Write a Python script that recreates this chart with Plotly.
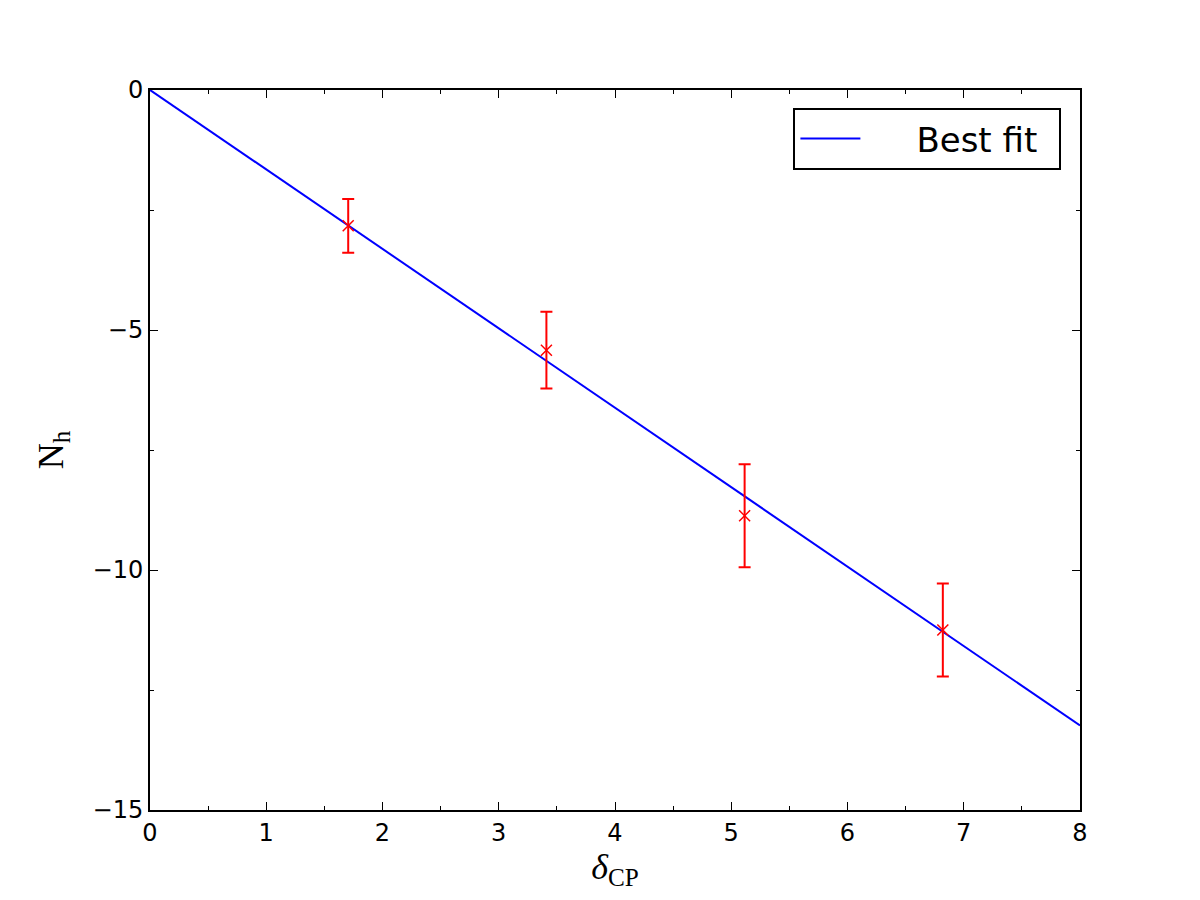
import plotly.graph_objects as go

# Data
delta_cp = [1.705, 3.41, 5.115, 6.82]
n_h = [-2.83, -5.42, -8.87, -11.25]
n_h_err = [0.56, 0.80, 1.075, 0.97]

fit_x = [0, 8]
fit_y = [0, -13.24]

x_ticks = [0, 1, 2, 3, 4, 5, 6, 7, 8]
y_ticks = [0, -5, -10, -15]

fig = go.Figure()

fig.add_trace(go.Scatter(
    x=fit_x, y=fit_y, mode="lines", name="\u2003\u2002Best fit\u2002",
    line=dict(color="#0000ff", width=2),
))

fig.add_trace(go.Scatter(
    x=delta_cp, y=n_h, mode="markers", showlegend=False,
    marker=dict(symbol="x-thin", size=11, color="#ff0000",
                line=dict(width=1.5, color="#ff0000")),
    error_y=dict(type="data", array=n_h_err, visible=True,
                 color="#ff0000", thickness=2, width=6),
))

axis_common = dict(
    showline=True, linecolor="black", linewidth=2, mirror="allticks",
    ticks="inside", ticklen=8, tickwidth=1, tickcolor="black",
    showgrid=False, zeroline=False,
    tickfont=dict(family="DejaVu Sans", size=24, color="black"),
)

fig.update_xaxes(
    range=[0, 8], tickvals=x_ticks, ticktext=[str(v) for v in x_ticks],
    minor=dict(ticks="inside", dtick=0.5, ticklen=4, tickcolor="black", tickwidth=1),
    title=dict(text="<i>δ</i><sub>CP</sub>", font=dict(family="Liberation Serif", size=36, color="black"), standoff=6),
    **axis_common,
)
fig.update_yaxes(
    range=[-15, 0], tickvals=y_ticks, ticktext=["0", "\u22125", "\u221210", "\u221215"],
    minor=dict(ticks="inside", dtick=2.5, ticklen=4, tickcolor="black", tickwidth=1),
    title=dict(text="N<sub>h</sub>", font=dict(family="Liberation Serif", size=36, color="black"), standoff=18),
    **axis_common,
)

fig.update_layout(
    width=1200, height=900,
    margin=dict(l=150, r=120, t=90, b=90),
    paper_bgcolor="white", plot_bgcolor="white",
    legend=dict(
        x=0.98, y=0.975, xanchor="right", yanchor="top",
        bordercolor="black", borderwidth=2, bgcolor="white",
        font=dict(family="DejaVu Sans", size=34, color="black"),
        itemwidth=60,
    ),
)

fig.write_html("out.html")
